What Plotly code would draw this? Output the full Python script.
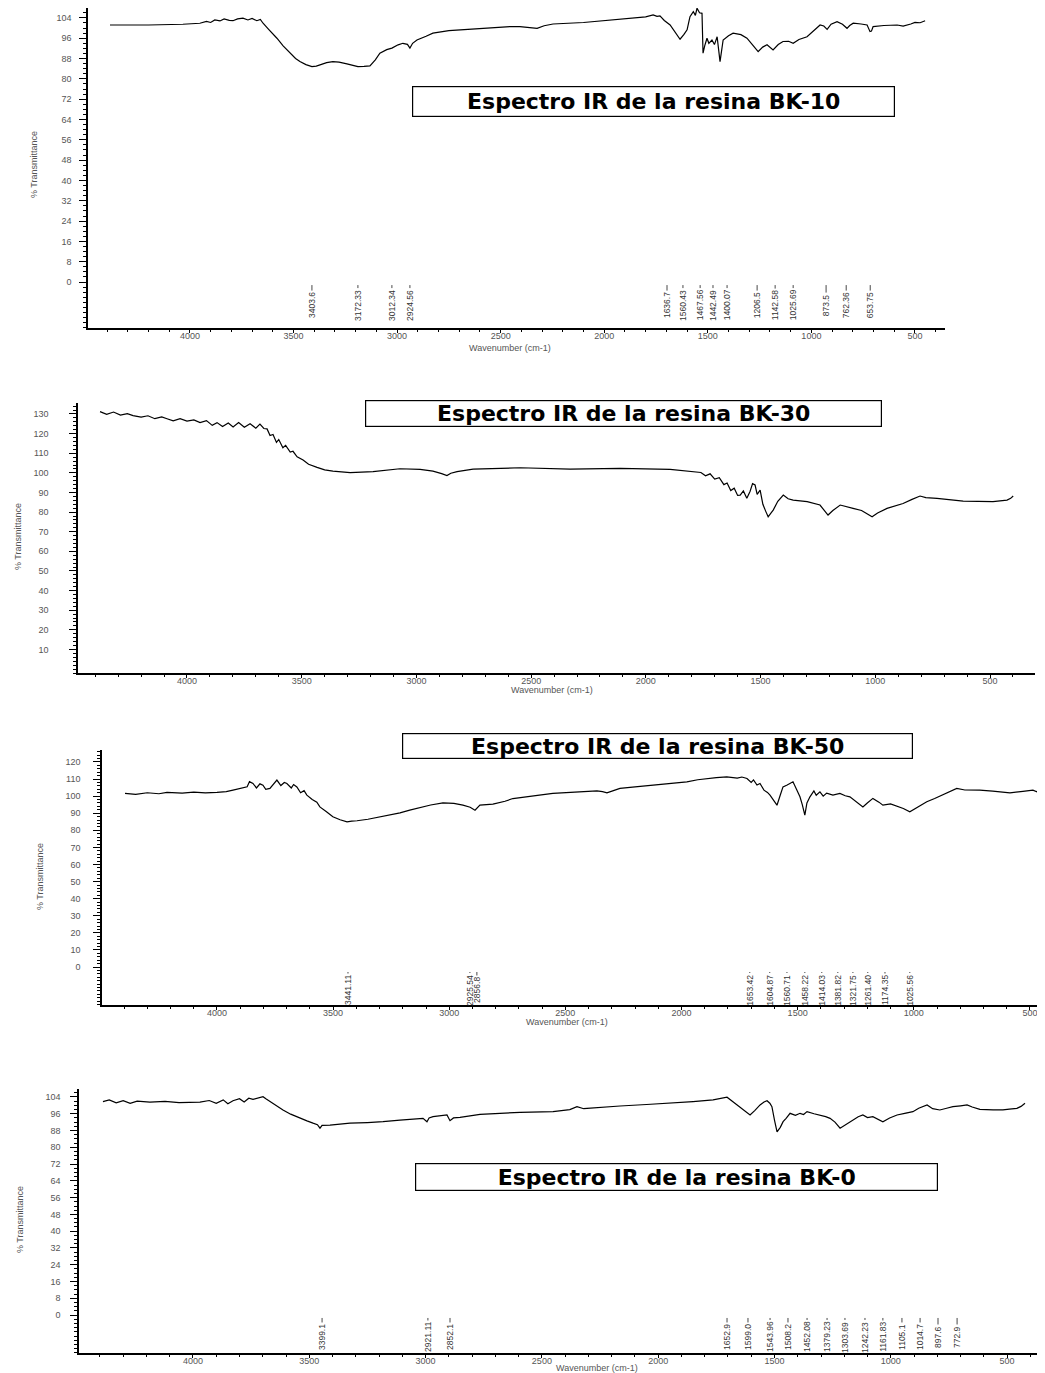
import plotly.graph_objects as go

# ---------------- data ----------------
# BK-10
bk10_wn = [4386, 4200, 4034, 3990, 3952, 3920, 3900, 3880, 3855, 3835, 3810, 3792, 3770, 3744, 3720, 3700, 3677, 3660, 3647,
           3620, 3600, 3580, 3550, 3517, 3490, 3469, 3440, 3411, 3390, 3372, 3340, 3310, 3280, 3242, 3210, 3189, 3160, 3131,
           3105, 3083, 3050, 3025, 2995, 2972, 2950, 2938, 2925, 2904, 2860, 2827, 2750, 2663, 2550, 2455, 2407, 2360, 2324,
           2290, 2247, 2100, 2006, 1900, 1800, 1764, 1745, 1731, 1710, 1682, 1655, 1634, 1615, 1600, 1590, 1586, 1570, 1560,
           1552, 1540, 1528, 1523, 1515, 1504, 1495, 1480, 1468, 1455, 1441, 1426, 1400, 1378, 1340, 1311, 1280, 1257, 1235,
           1214, 1185, 1160, 1137, 1110, 1088, 1060, 1021, 990, 958, 940, 924, 905, 876, 850, 828, 815, 798, 760, 731, 717,
           710, 702, 650, 586, 557, 520, 500, 475, 460, 451]
bk10_t = [101.2, 101.2, 101.5, 101.8, 101.9, 102.6, 102.2, 103.2, 102.8, 103.6, 103.0, 102.9, 103.6, 103.9, 103.2, 103.8, 102.9, 103.4, 101.9,
          99.5, 97.8, 96.0, 93.0, 90.1, 88.0, 86.8, 85.6, 84.8, 85.0, 85.5, 86.4, 86.8, 86.6, 85.9, 85.2, 84.8, 84.9, 85.1,
          87.5, 90.1, 91.5, 92.1, 93.4, 94.0, 93.6, 92.1, 94.0, 95.3, 96.8, 98.0, 99.0, 99.5, 100.2, 100.6, 100.6, 100.2, 99.9,
          100.9, 101.6, 102.2, 102.9, 103.6, 104.4, 105.2, 104.6, 104.8, 103.0, 101.2, 98.0, 95.6, 97.5, 99.3, 103.0, 104.5, 106.5, 105.0,
          107.8, 106.0, 105.8, 90.1, 93.0, 96.0, 94.0, 95.3, 93.5, 96.6, 86.8, 95.3, 97.0, 98.0, 97.4, 96.0, 93.0, 90.7, 92.5,
          93.4, 91.4, 93.5, 94.7, 94.8, 94.0, 95.5, 96.6, 99.0, 101.2, 100.8, 99.5, 101.5, 102.5, 101.5, 99.9, 101.0, 101.9, 101.6, 101.2, 98.6,
          98.8, 100.6, 101.0, 101.2, 100.8, 101.6, 102.2, 102.1, 102.8, 102.9]

# BK-30
bk30_wn = [4379, 4350, 4320, 4290, 4260, 4235, 4200, 4170, 4140, 4110, 4087, 4060, 4030, 4000, 3970, 3943, 3915, 3890, 3869,
           3845, 3820, 3799, 3775, 3750, 3725, 3700, 3682, 3665, 3651, 3638, 3625, 3610, 3600, 3582, 3570, 3550, 3538, 3520,
           3494, 3470, 3433, 3400, 3364, 3289, 3189, 3072, 2984, 2928, 2890, 2867, 2850, 2823, 2753, 2548, 2330, 2112, 1894,
           1794, 1760, 1740, 1720, 1700, 1680, 1660, 1646, 1630, 1615, 1600, 1589, 1575, 1560, 1546, 1535, 1524, 1515, 1502,
           1490, 1478, 1467, 1455, 1445, 1425, 1401, 1380, 1358, 1297, 1241, 1220, 1206, 1185, 1153, 1097, 1060, 1014, 990,
           949, 879, 840, 805, 780, 731, 617, 487, 426, 410, 399]
bk30_t = [131.2, 129.8, 131.0, 129.4, 130.2, 129.2, 128.4, 129.1, 127.6, 128.5, 127.6, 126.5, 127.6, 126.4, 127.0, 125.6, 126.6, 124.2, 125.6,
          123.6, 125.4, 123.4, 125.6, 123.2, 125.0, 122.8, 124.8, 122.6, 122.4, 119.0, 119.6, 115.5, 117.0, 112.8, 114.0, 110.6, 111.0, 108.2,
          106.5, 104.4, 102.8, 101.5, 100.9, 100.1, 100.6, 102.1, 101.8, 100.9, 99.6, 98.6, 99.8, 100.6, 101.9, 102.6, 101.9, 102.3, 101.8,
          100.6, 100.2, 98.5, 99.5, 96.8, 97.5, 94.0, 94.8, 91.0, 92.2, 88.5, 88.6, 90.8, 87.0, 90.5, 94.5, 93.8, 89.0, 91.2,
          84.0, 80.5, 77.6, 79.5, 81.0, 85.5, 88.7, 86.8, 86.1, 85.3, 83.6, 80.5, 78.5, 80.8, 83.6, 81.9, 80.8, 77.6, 79.5,
          81.9, 84.4, 86.5, 88.2, 87.4, 87.0, 85.6, 85.3, 86.1, 87.0, 88.2]

# BK-50
bk50_wn = [4396, 4350, 4300, 4250, 4215, 4150, 4100, 4050, 4000, 3960, 3931, 3900, 3870, 3860, 3845, 3830, 3815, 3802, 3790,
           3772, 3760, 3742, 3725, 3710, 3699, 3680, 3670, 3656, 3640, 3625, 3613, 3590, 3570, 3557, 3530, 3501, 3470, 3440,
           3420, 3397, 3350, 3311, 3260, 3212, 3170, 3126, 3080, 3027, 2980, 2941, 2910, 2889, 2875, 2868, 2812, 2760, 2726,
           2696, 2620, 2554, 2450, 2364, 2340, 2321, 2290, 2265, 2200, 2123, 2050, 1977, 1930, 1891, 1850, 1805, 1760, 1740,
           1718, 1700, 1690, 1675, 1662, 1645, 1630, 1619, 1605, 1589, 1575, 1563, 1545, 1520, 1505, 1490, 1480, 1469, 1460,
           1447, 1430, 1420, 1404, 1390, 1375, 1348, 1318, 1295, 1275, 1250, 1219, 1200, 1176, 1150, 1133, 1100, 1073, 1045,
           1017, 990, 944, 910, 875, 845, 815, 780, 716, 660, 586, 530, 487, 470, 457, 445]
bk50_t = [101.6, 101.0, 102.0, 101.4, 102.2, 101.8, 102.4, 101.9, 102.2, 102.6, 103.5, 104.6, 105.5, 108.5, 107.4, 104.8, 107.2, 106.4, 104.0,
          104.5, 106.5, 109.4, 106.2, 108.0, 107.4, 104.8, 106.8, 105.4, 102.0, 103.2, 100.6, 98.0, 96.5, 93.7, 91.0, 87.9, 86.2, 85.0,
          85.4, 85.6, 86.5, 87.5, 88.8, 90.2, 91.8, 93.4, 94.8, 96.1, 95.8, 94.7, 93.5, 91.8, 93.5, 94.7, 95.3, 97.0, 98.6,
          99.0, 100.4, 101.6, 102.4, 103.1, 102.6, 101.9, 103.4, 104.5, 105.4, 106.4, 107.4, 108.4, 109.6, 110.3, 110.8, 111.3, 110.6, 111.2,
          110.3, 108.0, 109.5, 106.5, 107.4, 103.5, 102.2, 100.6, 97.5, 94.7, 100.5, 105.4, 106.5, 108.4, 104.0, 99.6, 95.0, 88.9, 96.0,
          99.6, 103.0, 100.5, 102.5, 100.0, 101.8, 100.6, 101.6, 100.2, 99.6, 97.0, 93.7, 96.0, 98.7, 96.5, 94.7, 95.5, 94.2, 92.8,
          90.8, 93.0, 96.7, 98.6, 100.6, 102.5, 104.5, 103.6, 103.5, 102.9, 101.9, 102.8, 103.5, 102.5, 105.4, 103.0]

# BK-0
bk0_wn = [4387, 4360, 4330, 4300, 4270, 4240, 4185, 4120, 4060, 3970, 3930, 3900, 3870, 3850, 3828, 3800, 3780, 3760, 3742,
          3720, 3699, 3685, 3669, 3640, 3613, 3580, 3540, 3510, 3484, 3465, 3454, 3445, 3411, 3370, 3325, 3250, 3183, 3110,
          3050, 3011, 2994, 2985, 2968, 2920, 2908, 2895, 2880, 2852, 2800, 2766, 2680, 2624, 2594, 2452, 2380, 2349, 2320,
          2306, 2240, 2164, 2050, 1949, 1850, 1764, 1730, 1704, 1680, 1661, 1630, 1605, 1585, 1562, 1545, 1532, 1520, 1511,
          1500, 1489, 1475, 1463, 1450, 1433, 1410, 1390, 1375, 1360, 1330, 1304, 1280, 1261, 1240, 1218, 1190, 1163, 1140,
          1120, 1100, 1077, 1055, 1034, 1005, 973, 940, 905, 880, 860, 844, 820, 789, 760, 733, 700, 672, 650, 617, 560, 518,
          490, 458, 440, 423]
bk0_t = [101.8, 102.6, 101.2, 102.2, 101.0, 102.0, 101.5, 101.9, 101.3, 101.5, 102.3, 101.0, 102.6, 100.8, 102.2, 103.2, 101.6, 103.4, 102.9,
         103.6, 104.1, 103.0, 101.8, 99.8, 97.8, 95.8, 93.8, 92.6, 91.5, 90.8, 89.1, 90.5, 90.6, 91.0, 91.5, 91.8, 92.2, 93.0,
         93.4, 93.8, 92.2, 94.0, 94.6, 95.2, 95.4, 92.7, 94.0, 94.3, 95.2, 95.7, 96.2, 96.5, 96.7, 97.0, 98.0, 99.4, 98.4,
         98.6, 99.2, 99.7, 100.4, 101.0, 101.8, 102.6, 103.2, 103.9, 101.8, 100.2, 97.5, 95.4, 97.5, 100.2, 101.6, 102.2, 101.0, 99.4,
         93.0, 87.4, 89.5, 92.2, 93.8, 96.2, 95.2, 96.2, 95.6, 97.0, 96.0, 95.4, 94.6, 93.8, 92.0, 89.1, 91.0, 93.0, 94.6,
         95.4, 94.2, 94.6, 93.5, 92.2, 94.0, 95.4, 96.2, 97.0, 98.6, 99.5, 100.2, 98.4, 97.8, 98.6, 99.4, 99.8, 100.2, 99.2, 98.1, 97.8, 97.8,
         98.2, 98.6, 99.5, 101.0]

# peak labels (label position on the axis, printed value)
bk10_lab_pos = [3411, 3189, 3025, 2938, 1697, 1620, 1537, 1475, 1407, 1262, 1175, 1088, 929, 832, 716]
bk10_lab_txt = ["3403.6", "3172.33", "3012.34", "2924.56", "1636.7", "1560.43", "1467.56", "1442.49", "1400.07",
                "1206.5", "1142.58", "1025.69", "873.5", "762.36", "653.75"]
bk50_lab_pos = [3436, 2911, 2881, 1706, 1620, 1546, 1469, 1396, 1327, 1262, 1198, 1124, 1017]
bk50_lab_txt = ["3441.11", "2925.54", "2856.8", "1653.42", "1604.87", "1560.71", "1458.22", "1414.03", "1381.82",
                "1321.75", "1261.40", "1174.35", "1025.56"]
bk0_lab_pos = [3445, 2990, 2895, 1704, 1614, 1519, 1442, 1360, 1274, 1197, 1111, 1034, 952, 874, 797, 715]
bk0_lab_txt = ["3399.1", "2921.11", "2852.1", "1652.9", "1599.0", "1543.96", "1508.2", "1452.08", "1379.23",
               "1303.69", "1242.23", "1161.83", "1105.1", "1014.7", "897.6", "772.9"]

titles = ["Espectro IR de la resina BK-10", "Espectro IR de la resina BK-30",
          "Espectro IR de la resina BK-50", "Espectro IR de la resina BK-0"]
x_ticks = [4000, 3500, 3000, 2500, 2000, 1500, 1000, 500]
y_ticks_1 = [0, 8, 16, 24, 32, 40, 48, 56, 64, 72, 80, 88, 96, 104]
y_ticks_2 = [10, 20, 30, 40, 50, 60, 70, 80, 90, 100, 110, 120, 130]
y_ticks_3 = [0, 10, 20, 30, 40, 50, 60, 70, 80, 90, 100, 110, 120]
y_ticks_4 = [0, 8, 16, 24, 32, 40, 48, 56, 64, 72, 80, 88, 96, 104]

# ---------------- layout geometry (page pixels; page body adds an 8px offset) ----------------
OFF = 8
FW, FH = 1045 - OFF, 1373 - OFF


def xd(a, b):
    return [max(0.0, (a - OFF) / FW), min(1.0, (b - OFF) / FW)]


def yd(top, bottom):
    return [max(0.0, 1 - (bottom - OFF) / FH), min(1.0, 1 - (top - OFF) / FH)]


def px(x):
    return (x - OFF) / FW


def py(y):
    return 1 - (y - OFF) / FH


panels = [
    dict(wn=bk10_wn, t=bk10_t, xdom=xd(88, 945), ydom=yd(8, 328), xr=[4492, 355], yr=[-18.1, 107.9],
         yt=y_ticks_1, ymin=2, box=(653.5, 101.5, 481, 29), ytitle=(34, 165), xtitle=(510, 348),
         labs=(bk10_lab_pos, bk10_lab_txt), lab_y=-1.2, lab_ay=20, standoff=6),
    dict(wn=bk30_wn, t=bk30_t, xdom=xd(78, 1035), ydom=yd(403, 673), xr=[4475, 304], yr=[-2, 135.6],
         yt=y_ticks_2, ymin=2, box=(623.5, 413.5, 515, 25), ytitle=(18, 537), xtitle=(552, 690),
         labs=None, standoff=19),
    dict(wn=bk50_wn, t=bk50_t, xdom=xd(102, 1045), ydom=yd(750, 1005), xr=[4495, 435], yr=[-22.2, 127],
         yt=y_ticks_3, ymin=2, box=(657.5, 746, 509, 24), ytitle=(40, 877), xtitle=(567, 1022),
         labs=(bk50_lab_pos, bk50_lab_txt), lab_y=-2.9, lab_ay=18, standoff=11),
    dict(wn=bk0_wn, t=bk0_t, xdom=xd(79, 1045), ydom=yd(1089, 1353), xr=[4490, 337], yr=[-18.1, 107.8],
         yt=y_ticks_4, ymin=2, box=(676.5, 1177, 521, 26), ytitle=(20, 1220), xtitle=(597, 1368),
         labs=(bk0_lab_pos, bk0_lab_txt), lab_y=-1.4, lab_ay=19, standoff=8),
]

fig = go.Figure()
annotations = []
tick_font = dict(family="Liberation Sans, Arial", size=9, color="#555555")

for i, p in enumerate(panels, start=1):
    sfx = "" if i == 1 else str(i)
    fig.add_trace(go.Scatter(x=p["wn"], y=p["t"], mode="lines",
                             line=dict(color="black", width=1.2),
                             xaxis="x" + sfx, yaxis="y" + sfx, showlegend=False,
                             hoverinfo="skip"))
    fig.layout["xaxis" + sfx] = dict(
        domain=p["xdom"], range=p["xr"], anchor="y" + sfx,
        tickvals=x_ticks, ticks="outside", ticklen=3, tickcolor="black",
        minor=dict(dtick=100, ticks="outside", ticklen=2, tickcolor="black"),
        showline=True, linecolor="black", linewidth=1.5, showgrid=False, zeroline=False,
        tickfont=tick_font, ticklabelstandoff=-5)
    fig.layout["yaxis" + sfx] = dict(
        domain=p["ydom"], range=p["yr"], anchor="x" + sfx,
        tickvals=p["yt"], ticks="outside", ticklen=7, tickcolor="black", tickwidth=1,
        minor=dict(dtick=p["ymin"], ticks="outside", ticklen=3, tickcolor="black"),
        showline=True, linecolor="black", linewidth=1.5, showgrid=False, zeroline=False,
        tickfont=tick_font, ticklabelstandoff=p["standoff"])

    # title box
    bx, by, bw, bh = p["box"]
    annotations.append(dict(
        xref="paper", yref="paper", x=px(bx), y=py(by), xanchor="center", yanchor="middle",
        text="<b>" + titles[i - 1] + "</b>", showarrow=False, width=bw, height=bh,
        bordercolor="black", borderwidth=1.2, borderpad=0, bgcolor="white",
        font=dict(family="DejaVu Sans", size=22, color="black")))
    # axis titles
    tx, ty = p["ytitle"]
    annotations.append(dict(xref="paper", yref="paper", x=px(tx), y=py(ty), xanchor="center",
                            yanchor="middle", text="% Transmittance", textangle=-90, showarrow=False,
                            font=dict(family="Liberation Sans, Arial", size=9, color="#555555")))
    tx, ty = p["xtitle"]
    annotations.append(dict(xref="paper", yref="paper", x=px(tx), y=py(ty), xanchor="center",
                            yanchor="middle", text="Wavenumber (cm-1)", showarrow=False,
                            font=dict(family="Liberation Sans, Arial", size=9, color="#555555")))
    # peak labels
    if p["labs"]:
        for pos, txt in zip(*p["labs"]):
            annotations.append(dict(
                xref="x" + sfx, yref="y" + sfx, x=pos, y=p["lab_y"], ax=0, ay=p["lab_ay"],
                text=txt, textangle=-90, showarrow=True, arrowhead=0, arrowwidth=0.9,
                arrowcolor="#333333", standoff=0,
                font=dict(family="Liberation Sans, Arial", size=8.5, color="#333333")))

fig.update_layout(width=FW, height=FH, margin=dict(l=0, r=0, t=0, b=0),
                  paper_bgcolor="white", plot_bgcolor="white", showlegend=False,
                  annotations=annotations)

fig.write_html("out.html")
